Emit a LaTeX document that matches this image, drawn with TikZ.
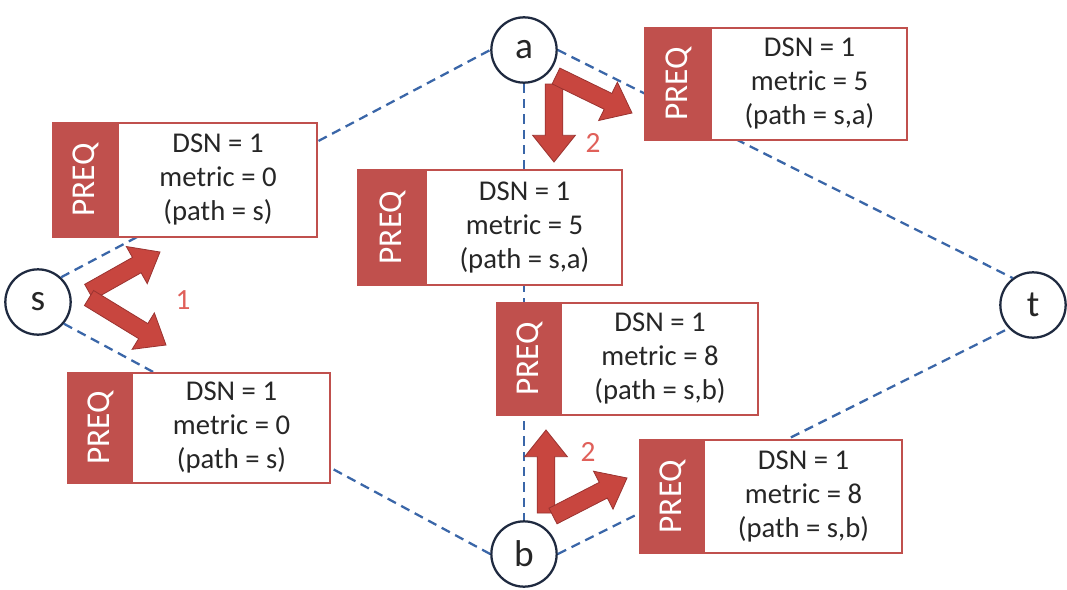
\documentclass[tikz,border=0pt]{standalone}
\usepackage{fontspec}
\setmainfont{Carlito}
\usetikzlibrary{calc}
\definecolor{preqred}{HTML}{C0504D}
\definecolor{arrred}{HTML}{C8463F}
\definecolor{arrdark}{HTML}{9A3330}
\definecolor{dashblue}{HTML}{3A66A8}
\definecolor{txt}{HTML}{262626}
\definecolor{numred}{HTML}{E0605A}
\definecolor{circ}{HTML}{1F2A40}
\tikzset{
  nd/.style={circle, draw=circ, line width=1.7pt, minimum size=49pt, inner sep=0pt,
    fill=white, text=txt, font=\fontsize{28}{28}\selectfont},
  link/.style={draw=dashblue, line width=1.7pt, dash pattern=on 7pt off 4.5pt},
  info/.style={align=center, text=txt, inner sep=0pt, font=\fontsize{21.5}{25.5}\selectfont},
  tag/.style={rotate=90, text=white, inner sep=0pt, font=\fontsize{25}{25}\selectfont},
  num/.style={text=numred, inner sep=0pt, font=\fontsize{22}{22}\selectfont},
  fat/.style={fill=arrred, draw=arrdark, line width=0.6pt, line join=miter},
}
\newcommand\fatarrow[2]{%
  \coordinate (fa-c) at ($(#2)!20pt!(#1)$);
  \path[fat] ($(#1)!6.6pt!90:(#2)$) -- ($(fa-c)!6.6pt!-90:(#1)$) -- ($(fa-c)!16pt!-90:(#1)$)
    -- (#2) -- ($(fa-c)!16pt!90:(#1)$) -- ($(fa-c)!6.6pt!90:(#1)$) -- ($(#1)!6.6pt!-90:(#2)$) -- cycle;}
\newcommand\preqbox[7]{%
  \fill[white] (#2,#3) rectangle (#4,#5);
  \fill[preqred] (#2,#3) rectangle (#6,#5);
  \draw[preqred, line width=1.5pt] (#2,#3) rectangle (#4,#5);
  \node[tag] (#1-tag) at ({(#2+#6)/2},{(#3+#5)/2}) {PREQ};
  \node[info] (#1) at ({(#6+#4)/2},{(#3+#5)/2}) {#7};}
\begin{document}
\begin{tikzpicture}[x=0.75pt,y=-0.75pt]
\fill[white] (0,0) rectangle (1067,589);
\useasboundingbox (0,0) rectangle (1067,589);
% nodes
\node[nd] (s) at (38,302) {s};
\node[nd] (a) at (524,50) {a};
\node[nd] (b) at (524,554) {b};
\node[nd] (t) at (1033,305) {t};
% dashed links
\draw[link] (s.47) -- (a.180);
\draw[link] (s.-40) -- (b.180);
\draw[link] (a.0) -- (t.127);
\draw[link] (b.0) -- (t.224);
\draw[link] (a.south) -- (b.north);
% boxes
\preqbox{L1}{53}{123}{317}{237}{119}{DSN = 1\\metric = 0\\(path = s)}
\preqbox{L2}{68}{373}{330}{483}{133}{DSN = 1\\metric = 0\\(path = s)}
\preqbox{M1}{358}{170}{622}{285}{427}{DSN = 1\\metric = 5\\(path = s,a)}
\preqbox{M2}{497}{303}{758}{415}{562}{DSN = 1\\metric = 8\\(path = s,b)}
\preqbox{TR}{645}{28}{907}{140}{712}{DSN = 1\\metric = 5\\(path = s,a)}
\preqbox{BR}{640}{440}{902}{553}{705}{DSN = 1\\metric = 8\\(path = s,b)}
% fat arrows
\fatarrow{89,292}{160,252}
\fatarrow{89,298}{166,345}
\fatarrow{554,84}{554,162}
\fatarrow{556,76}{632,113}
\fatarrow{546,513}{546,430}
\fatarrow{553,516}{627,478}
% labels
\node[num] (n1) at (183,300) {1};
\node[num] (n2) at (593,143) {2};
\node[num] (n3) at (588,452) {2};
\end{tikzpicture}
\end{document}
